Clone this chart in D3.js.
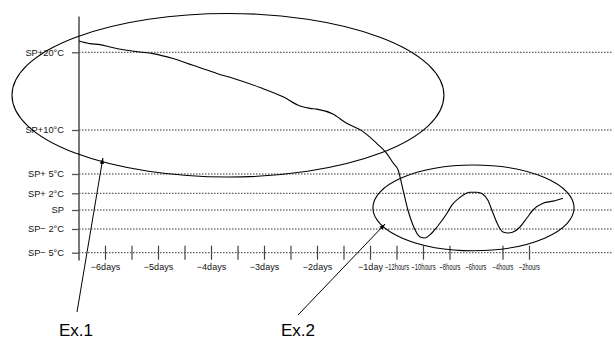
<!DOCTYPE html>
<html>
<head>
<meta charset="utf-8">
<script src="https://cdn.jsdelivr.net/npm/d3@7"></script>
<style>
  body { margin: 0; background: #fff; }
  svg { display: block; font-family: "Liberation Sans", Arial, sans-serif; }
</style>
</head>
<body>
<div id="chart"></div>
<script>
// temperature profile vs. time before now (x = tick index, y = degrees relative to SP)
const xTickLabels = ["\u22126days", "", "\u22125days", "", "\u22124days", "", "\u22123days", "", "\u22122days", "",
  "\u22121day", "\u221212hours", "\u221210hours", "\u22128hours", "\u22126hours", "\u22124hours", "\u22122hours"];
const xTickMarks = [0, 1, 2, 3, 4, 5, 6, 7, 8, 9, 10, 11, 12, 13, 15, 16];

const yTickValues = [-5, -2, 0, 2, 5, 10, 20];
const yTickLabels = ["SP\u2212 5\u00b0C", "SP\u2212 2\u00b0C", "SP", "SP+ 2\u00b0C", "SP+ 5\u00b0C", "SP+10\u00b0C", "SP+20\u00b0C"];

const seriesX = [-0.98, -0.57, -0.19, 0.19, 0.82, 1.32, 1.81, 2.57, 3.32, 3.96, 4.22, 4.83, 5.85, 6.72, 7.36, 7.74,
  7.99, 8.60, 9.12, 9.74, 10.25, 10.63, 10.88, 11.06, 11.25, 11.43, 11.62, 11.89, 12.08, 12.26, 12.53, 12.91,
  13.09, 13.40, 13.77, 14.04, 14.26, 14.45, 14.64, 14.83, 15.02, 15.21, 15.40, 15.66, 15.92, 16.15, 16.53, 16.91, 17.28];
const seriesY = [21.45, 21.12, 20.99, 20.68, 20.26, 20.04, 19.83, 19.19, 18.33, 17.60, 17.27, 16.67, 15.47, 14.27, 13.08, 12.78,
  12.69, 12.05, 10.86, 9.81, 8.49, 7.35, 6.22, 5.45, 2.47, 0.0, -1.58, -3.0, -3.13, -2.75, -1.79, -0.32,
  0.59, 1.53, 2.16, 2.16, 1.88, 1.18, -0.32, -1.58, -2.38, -2.5, -2.38, -1.79, -0.84, 0.0, 0.82, 1.06, 1.41];

// highlighted regions (data units) and their callouts
const regionNames = ["Ex.1", "Ex.2"];
const regionX = [[-3.51, 12.79], [10.11, 17.70]];
const regionY = [[4.53, 25.0], [-4.75, 6.02]];
const calloutTip = [[-0.08, 6.82], [10.57, -1.47]];

const width = 615, height = 340;
const svg = d3.select("#chart").append("svg")
  .attr("width", width).attr("height", height);

const x = d3.scaleLinear().domain([0, 16]).range([105, 529]);
// uneven vertical spacing of the reference levels
const y = d3.scaleLinear()
  .domain([-5, -2, 0, 2, 5, 10, 20])
  .range([252.7, 229, 210, 193.3, 174, 130, 52.3]);

const axisX = 79, gridRight = 612;

// dotted reference lines
svg.append("g").selectAll("line")
  .data(yTickValues)
  .join("line")
  .attr("x1", axisX).attr("x2", gridRight)
  .attr("y1", d => y(d)).attr("y2", d => y(d))
  .attr("stroke", "#333").attr("stroke-width", 1)
  .attr("stroke-dasharray", "1.5,1.5");

// y axis
const yAxis = svg.append("g")
  .attr("transform", `translate(${axisX},0)`)
  .call(d3.axisLeft(y).tickValues(yTickValues).tickSize(7).tickPadding(8)
    .tickFormat((d, i) => yTickLabels[i]));
yAxis.select(".domain").remove();
yAxis.selectAll(".tick line").attr("stroke", "#555").attr("stroke-width", 1.3);
yAxis.selectAll("text").attr("font-size", 9.3).attr("fill", "#111")
  .attr("font-family", "Liberation Sans, Arial, sans-serif");
yAxis.append("line")
  .attr("y1", y(24.6)).attr("y2", y(-6))
  .attr("stroke", "#555").attr("stroke-width", 1.6);

// x axis (tick marks straddle the lowest level)
const xAxis = svg.append("g")
  .attr("transform", `translate(0,${y(-5) - 7})`)
  .call(d3.axisBottom(x).tickValues(xTickMarks).tickSize(14).tickPadding(4)
    .tickFormat(d => xTickLabels[d]));
xAxis.select(".domain").remove();
xAxis.selectAll(".tick line").attr("stroke", "#444").attr("stroke-width", 1.2);
xAxis.selectAll("text").attr("font-size", 9).attr("fill", "#111")
  .attr("font-family", "Liberation Sans, Arial, sans-serif");
// hour labels are squeezed horizontally to fit between ticks
xAxis.selectAll("text").filter(d => xTickLabels[d].includes("hours"))
  .attr("font-size", 8.5)
  .attr("transform", "scale(0.68,1)");
// the -6hours label has no tick mark
svg.append("text")
  .attr("transform", `translate(${x(14)},0) scale(0.68,1)`)
  .attr("y", y(-5) + 11)
  .attr("dy", "0.71em")
  .attr("text-anchor", "middle")
  .attr("font-size", 8.5).attr("fill", "#111")
  .text(xTickLabels[14]);

// temperature curve
const line = d3.line()
  .x(d => x(d[0]))
  .y(d => y(d[1]))
  .curve(d3.curveMonotoneX);
svg.append("path")
  .datum(d3.zip(seriesX, seriesY))
  .attr("fill", "none")
  .attr("stroke", "#000")
  .attr("stroke-width", 1.1)
  .attr("d", line);

// ellipses around the two regions
svg.append("g").selectAll("ellipse")
  .data(regionNames)
  .join("ellipse")
  .attr("cx", (d, i) => (x(regionX[i][0]) + x(regionX[i][1])) / 2)
  .attr("cy", (d, i) => (y(regionY[i][0]) + y(regionY[i][1])) / 2)
  .attr("rx", (d, i) => (x(regionX[i][1]) - x(regionX[i][0])) / 2)
  .attr("ry", (d, i) => (y(regionY[i][0]) - y(regionY[i][1])) / 2)
  .attr("fill", "none")
  .attr("stroke", "#000")
  .attr("stroke-width", 1.1);

// callout arrows + labels
svg.append("defs").append("marker")
  .attr("id", "arrow")
  .attr("viewBox", "0 0 10 10")
  .attr("refX", 10).attr("refY", 5)
  .attr("markerWidth", 6).attr("markerHeight", 6)
  .attr("markerUnits", "userSpaceOnUse")
  .attr("orient", "auto")
  .append("path")
  .attr("d", "M0,1.5L10,5L0,8.5Z")
  .attr("fill", "#000");

const labelPos = [[76, 336], [298, 336]];
const tailPos = [[77, 312], [298, 315]];

svg.append("g").selectAll("line")
  .data(regionNames)
  .join("line")
  .attr("x1", (d, i) => tailPos[i][0]).attr("y1", (d, i) => tailPos[i][1])
  .attr("x2", (d, i) => x(calloutTip[i][0])).attr("y2", (d, i) => y(calloutTip[i][1]))
  .attr("stroke", "#000").attr("stroke-width", 1)
  .attr("marker-end", "url(#arrow)");

svg.append("g").selectAll("text")
  .data(regionNames)
  .join("text")
  .attr("x", (d, i) => labelPos[i][0]).attr("y", (d, i) => labelPos[i][1])
  .attr("text-anchor", "middle")
  .attr("font-size", 17)
  .attr("fill", "#000")
  .text(d => d);
</script>
</body>
</html>
